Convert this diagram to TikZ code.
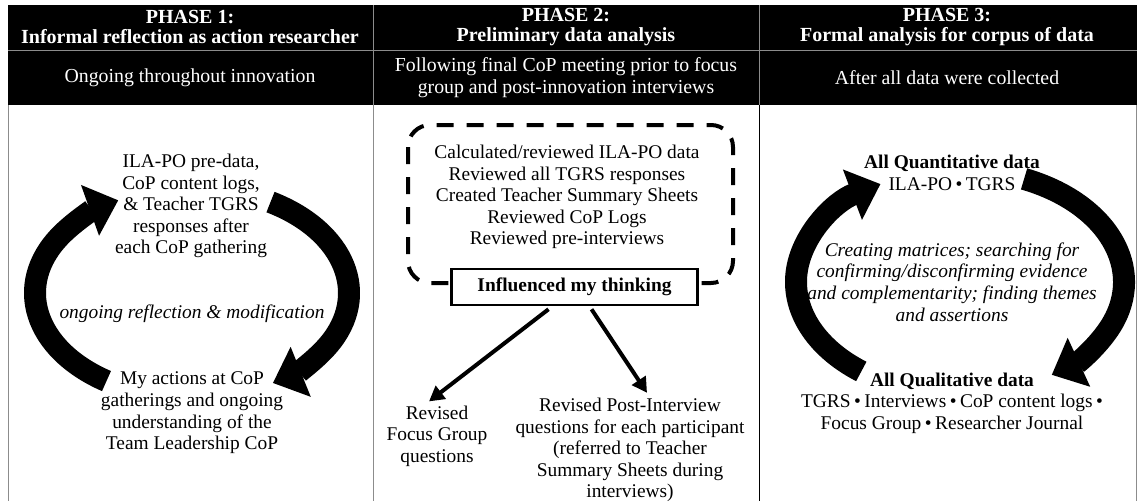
\documentclass[tikz,border=0pt]{standalone}
\usepackage{fontspec}
\setmainfont{Liberation Serif}
\usepackage{tikz}
\usetikzlibrary{arrows.meta, calc}
\colorlet{rulegray}{black!45}
\newcommand{\bodysize}{\fontsize{19.4}{21.6}\selectfont}
\newcommand{\sepdot}{\hspace{3.5pt}•\hspace{3.5pt}}

\begin{document}
\begin{tikzpicture}[x=1pt, y=1pt,
  hdr/.style={text=white, font=\fontsize{20}{20.5}\selectfont\bfseries, align=center},
  sub/.style={text=white, font=\fontsize{19.8}{22}\selectfont, align=center},
  body/.style={font=\bodysize, align=center, inner sep=1pt},
  cyc/.style={line width=22pt, -{Triangle[length=30pt, width=52pt]}},
  fat/.style={line width=4pt, -{Triangle[length=15pt, width=16pt]}},
  dashbox/.style={line width=4pt, rounded corners=22pt, dash pattern=on 17pt off 13pt}]
  \useasboundingbox (0,0) rectangle (1138,-501);

  % header band
  \fill[black] (8,-5) rectangle (1136.5,-105);
  \draw[rulegray, line width=0.8pt] (8,-50) -- (1136.5,-50);
  \draw[rulegray, line width=0.6pt] (373,-5) -- (373,-105);
  \draw[rulegray, line width=0.6pt] (759,-5) -- (759,-105);

  % table rules
  \draw[rulegray, line width=0.8pt] (8,-105) -- (8,-501);
  \draw[rulegray, line width=0.8pt] (373,-105) -- (373,-501);
  \draw[black, line width=1pt] (759,-105) -- (759,-501);
  \draw[rulegray, line width=0.8pt] (1136.5,-105) -- (1136.5,-501);

  % headings
  \node[hdr] (h1) at (190,-27) {PHASE 1:\\Informal reflection as action researcher};
  \node[hdr] (h2) at (566,-27) {PHASE 2:\\Preliminary data analysis};
  \node[hdr] (h3) at (947,-27) {PHASE 3:\\Formal analysis for corpus of data};
  \node[sub] (s1) at (190,-78) {Ongoing throughout innovation};
  \node[sub] (s2) at (566,-78) {Following final CoP meeting prior to focus\\group and post-innovation interviews};
  \node[sub] (s3) at (947,-78) {After all data were collected};

  % phase 1
  \coordinate (c1) at (192,-293);
  \draw[cyc] ($(c1)+(237:157 and 105)$) arc[start angle=237, end angle=118, x radius=157pt, y radius=105pt];
  \draw[cyc] ($(c1)+(60:157 and 105)$) arc[start angle=60, end angle=-59, x radius=157pt, y radius=105pt];
  \node[body] (pre) at (191,-206) {ILA-PO pre-data,\\CoP content logs,\\\& Teacher TGRS\\responses after\\each CoP gathering};
  \node[body, font=\bodysize\itshape] (refl) at (192,-314) {ongoing reflection \& modification};
  \node[body] (act) at (192,-413) {My actions at CoP\\gatherings and ongoing\\understanding of the\\Team Leadership CoP};

  % phase 2
  \draw[dashbox] (408,-125) rectangle (733,-283);
  \node[body] (rev) at (567,-197) {Calculated/reviewed ILA-PO data\\Reviewed all TGRS responses\\Created Teacher Summary Sheets\\Reviewed CoP Logs\\Reviewed pre-interviews};
  \node[draw, line width=2.5pt, fill=white, minimum width=246pt, minimum height=36pt, font=\bodysize\bfseries]
    (infl) at (574.5,-287) {Influenced my thinking};
  \node[body] (focus) at (437,-436) {Revised\\Focus Group\\questions};
  \node[body] (post) at (630,-450) {Revised Post-Interview\\questions for each participant\\(referred to Teacher\\Summary Sheets during\\interviews)};
  \draw[fat] ([xshift=-26pt, yshift=-3pt]infl.south) -- ([xshift=-8pt, yshift=3pt]focus.north);
  \draw[fat] ([xshift=17pt, yshift=-3pt]infl.south) -- ([xshift=17pt, yshift=4pt]post.north);

  % phase 3
  \coordinate (c3) at (960,-282);
  \draw[cyc] ($(c3)+(233:164 and 112)$) arc[start angle=233, end angle=119, x radius=164pt, y radius=112pt];
  \draw[cyc] ($(c3)+(67:164 and 112)$) arc[start angle=67, end angle=-56, x radius=164pt, y radius=112pt];
  \node[body] (quan) at (952,-173) {\textbf{All Quantitative data}\\ILA-PO\sepdot TGRS};
  \node[body, font=\bodysize\itshape] (matr) at (952,-282) {Creating matrices; searching for\\confirming/disconfirming evidence\\and complementarity; finding themes\\and assertions};
  \node[body] (qual) at (952,-403) {\textbf{All Qualitative data}\\TGRS\sepdot Interviews\sepdot CoP content logs\sepdot\\Focus Group\sepdot Researcher Journal};
\end{tikzpicture}
\end{document}
